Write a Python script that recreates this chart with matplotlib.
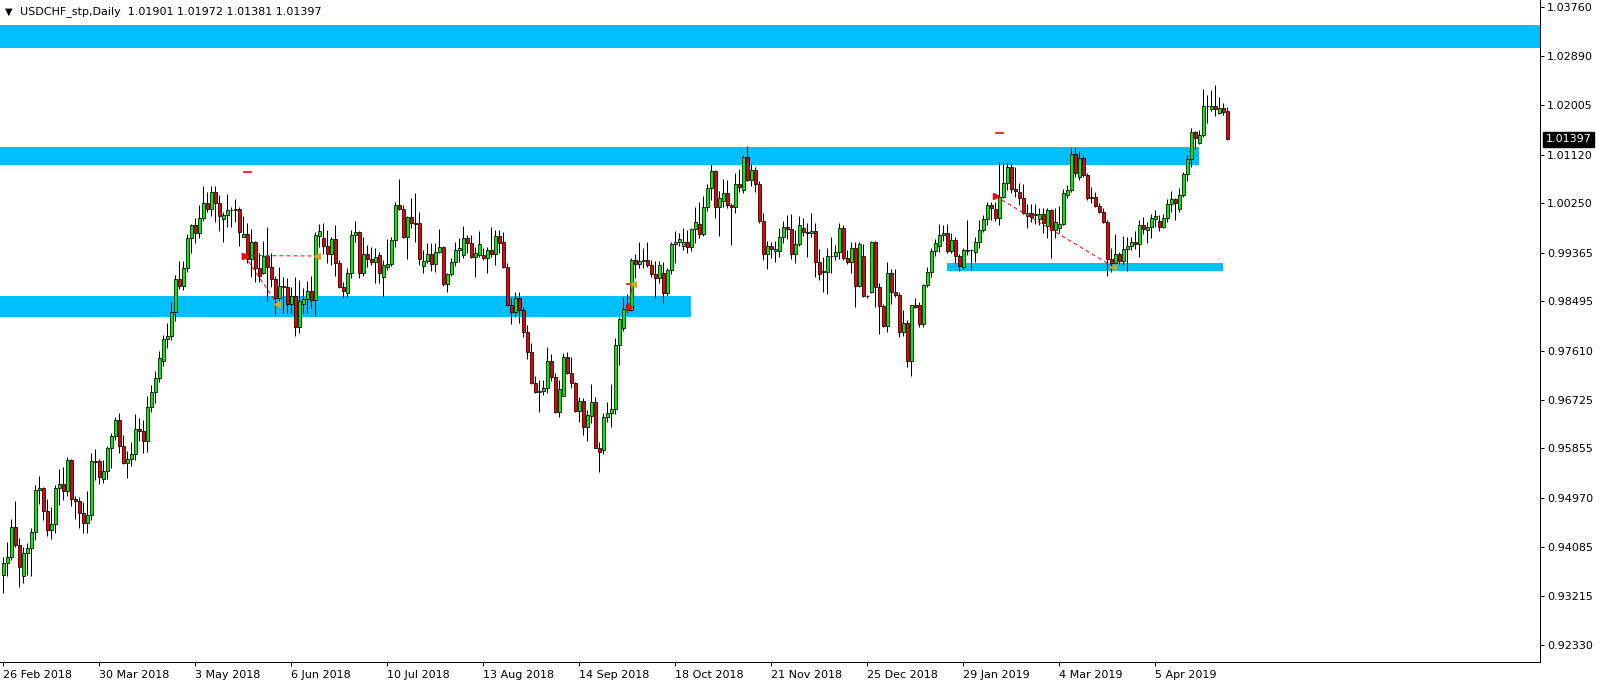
import matplotlib
matplotlib.use('Agg')
import matplotlib.pyplot as plt
from matplotlib.patches import Rectangle

# daily USDCHF candles (bar 0 = 26 Feb 2018)
opens = [
    0.93588, 0.93797, 0.93904, 0.94442, 0.94125, 0.93576, 0.93976, 0.94066, 0.94352, 0.95111,
    0.95141, 0.94741, 0.94394, 0.94496, 0.95141, 0.95219, 0.95099, 0.95649, 0.94944, 0.94920,
    0.94705, 0.94526, 0.94663, 0.95625, 0.95625, 0.95300, 0.95458, 0.95858, 0.96079, 0.96366,
    0.95906, 0.95589, 0.95661, 0.95751, 0.96198, 0.96174, 0.95995, 0.96605, 0.96861, 0.97112,
    0.97420, 0.97811, 0.97871, 0.98295, 0.98887, 0.98773, 0.99084, 0.99622, 0.99855, 0.99723,
    0.99980, 1.00249, 1.00142, 1.00458, 1.00249, 0.99960, 1.00040, 1.00130, 1.00136, 1.00150,
    0.99652, 0.99700, 0.99251, 0.99562, 0.99084, 0.99000, 0.99305, 0.99114, 0.98887, 0.98546,
    0.98773, 0.98743, 0.98439, 0.98588, 0.98038, 0.98450, 0.98528, 0.98678, 0.98516, 0.99660,
    0.99622, 0.99490, 0.99335, 0.99604, 0.99174, 0.98755, 0.98650, 0.98994, 0.99681, 0.99741,
    0.98994, 0.99341, 0.99245, 0.99203, 0.99320, 0.98935, 0.99114, 0.99156, 0.99592, 1.00219,
    1.00147, 0.99652, 1.00010, 0.99891, 0.99891, 0.99126, 0.99215, 0.99335, 0.99156, 0.99383,
    0.99472, 0.98797, 0.98976, 0.99191, 0.99413, 0.99320, 0.99622, 0.99532, 0.99293, 0.99320,
    0.99317, 0.99275, 0.99413, 0.99335, 0.99663, 0.99560, 0.99102, 0.98427, 0.98308, 0.98547,
    0.98338, 0.97937, 0.97591, 0.97035, 0.96874, 0.96880, 0.96934, 0.97424, 0.97143, 0.96515,
    0.96802, 0.97489, 0.97214, 0.97023, 0.96533, 0.96713, 0.96247, 0.96440, 0.96695, 0.95870,
    0.95820, 0.96414, 0.96486, 0.96557, 0.97710, 0.98021, 0.98350, 0.98338, 0.99234, 0.99156,
    0.99216, 0.99230, 0.99144, 0.98983, 0.98917, 0.98995, 0.98636, 0.99055, 0.99521, 0.99550,
    0.99491, 0.99550, 0.99473, 0.99789, 0.99880, 0.99694, 1.00178, 1.00518, 1.00829, 1.00190,
    1.00300, 1.00429, 1.00220, 1.00178, 1.00590, 1.00480, 1.01074, 1.00668, 1.00850, 1.00600,
    0.99930, 0.99335, 0.99484, 0.99400, 0.99400, 0.99652, 0.99819, 0.99790, 0.99335, 0.99520,
    0.99801, 0.99741, 0.99711, 0.99753, 0.99203, 0.99040, 0.99012, 0.99305, 0.99311, 0.99371,
    0.99801, 0.99263, 0.99203, 0.99442, 0.98773, 0.99305, 0.98588, 0.98660, 0.99550, 0.98756,
    0.98415, 0.98057, 0.98995, 0.98654, 0.98612, 0.97949, 0.98099, 0.97429, 0.98427, 0.98420,
    0.98081, 0.98786, 0.99013, 0.99395, 0.99480, 0.99682, 0.99712, 0.99401, 0.99592, 0.99311,
    0.99110, 0.99401, 0.99413, 0.99380, 0.99550, 0.99771, 0.99963, 1.00220, 1.00150, 0.99992,
    1.00369, 1.00608, 1.00907, 1.00500, 1.00460, 1.00339, 1.00030, 1.00070, 1.00040, 0.99962,
    1.00052, 0.99850, 1.00130, 0.99771, 0.99800, 0.99873, 1.00400, 1.00488, 1.01134, 1.00720,
    1.01056, 1.00757, 1.00370, 1.00360, 1.00201, 1.00100, 0.99921, 0.99245, 0.99174, 0.99335,
    0.99216, 0.99431, 0.99485, 0.99563, 0.99515, 0.99861, 0.99770, 0.99831, 0.99960, 0.99933,
    0.99831, 0.99981, 1.00232, 1.00327, 1.00150, 1.00399, 1.00775, 1.01038, 1.01522, 1.01330,
    1.01475, 1.01994, 1.01941, 1.02000, 1.01875, 1.01953, 1.01901,
]
highs = [
    0.93916, 0.94173, 0.94591, 0.94914, 0.94245, 0.94096, 0.94155, 0.94424, 0.95201, 0.95362,
    0.95160, 0.94944, 0.94801, 0.95201, 0.95488, 0.95518, 0.95709, 0.95661, 0.95004, 0.94992,
    0.94896, 0.95093, 0.95780, 0.95846, 0.95661, 0.95649, 0.95906, 0.96139, 0.96414, 0.96486,
    0.96097, 0.95810, 0.95972, 0.96473, 0.96395, 0.96366, 0.96796, 0.96993, 0.97244, 0.97602,
    0.97889, 0.98098, 0.98475, 0.98965, 0.99216, 0.99216, 0.99700, 0.99870, 0.99980, 1.00219,
    1.00560, 1.00446, 1.00560, 1.00560, 1.00399, 1.00100, 1.00417, 1.00190, 1.00321, 1.00190,
    1.00022, 0.99891, 0.99783, 0.99574, 0.99365, 0.99580, 0.99819, 0.99353, 0.98946, 0.99114,
    0.98935, 0.98917, 0.98743, 0.98935, 0.98875, 0.98725, 0.98857, 0.98946, 0.99741, 0.99879,
    0.99891, 0.99771, 0.99652, 0.99861, 0.99233, 0.98845, 0.99084, 0.99771, 0.99932, 0.99760,
    0.99640, 0.99502, 0.99460, 0.99442, 0.99383, 0.99233, 0.99610, 0.99652, 1.00279, 1.00685,
    1.00219, 1.00028, 1.00339, 1.00440, 1.00100, 0.99413, 0.99532, 0.99532, 0.99532, 0.99789,
    0.99490, 0.98994, 0.99263, 0.99550, 0.99622, 0.99843, 0.99681, 0.99681, 0.99472, 0.99753,
    0.99442, 0.99472, 0.99819, 0.99771, 0.99771, 0.99741, 0.99174, 0.98547, 0.98654, 0.98654,
    0.98397, 0.98069, 0.97752, 0.97155, 0.97083, 0.97083, 0.97669, 0.97543, 0.97203, 0.97083,
    0.97561, 0.97579, 0.97501, 0.97053, 0.96784, 0.96755, 0.96545, 0.97005, 0.96784, 0.95978,
    0.96497, 0.96695, 0.97005, 0.97830, 0.98218, 0.98565, 0.98619, 0.99264, 0.99341, 0.99550,
    0.99443, 0.99550, 0.99234, 0.99222, 0.99222, 0.99192, 0.99084, 0.99562, 0.99754, 0.99712,
    0.99801, 0.99772, 0.99813, 1.00178, 1.00279, 1.00387, 1.00590, 1.00955, 1.00847, 1.00471,
    1.00680, 1.00668, 1.00250, 1.00787, 1.00865, 1.01116, 1.01277, 1.00950, 1.00900, 1.00650,
    1.00070, 0.99580, 0.99562, 0.99580, 0.99813, 0.99932, 1.00040, 1.00058, 0.99771, 1.00028,
    0.99980, 0.99891, 1.00070, 0.99891, 0.99424, 0.99293, 0.99442, 0.99652, 0.99502, 0.99891,
    0.99861, 0.99413, 0.99550, 0.99550, 0.99562, 0.99520, 0.98600, 0.99574, 0.99574, 0.98816,
    0.98439, 0.99204, 0.99072, 0.99072, 0.98666, 0.98338, 0.98158, 0.98435, 0.98559, 0.98487,
    0.98798, 0.99114, 0.99455, 0.99604, 0.99879, 0.99861, 0.99879, 0.99724, 0.99652, 0.99341,
    0.99443, 0.99951, 0.99431, 0.99652, 0.99951, 1.00040, 1.00267, 1.00279, 1.00279, 1.00984,
    1.00966, 1.00978, 1.00966, 1.00907, 1.00608, 1.00590, 1.00231, 1.00231, 1.00231, 1.00160,
    1.00160, 1.00160, 1.00148, 1.00160, 1.00201, 1.00500, 1.00578, 1.01235, 1.01235, 1.01193,
    1.01116, 1.00787, 1.00548, 1.00458, 1.00249, 1.00160, 0.99950, 0.99455, 0.99694, 0.99371,
    0.99664, 0.99652, 0.99652, 0.99754, 0.99951, 1.00011, 0.99921, 1.00052, 1.00130, 1.00040,
    1.00052, 1.00321, 1.00471, 1.00351, 1.00519, 1.00817, 1.01116, 1.01606, 1.01546, 1.01564,
    1.02299, 1.02192, 1.02281, 1.02371, 1.02150, 1.02042, 1.01972,
]
lows = [
    0.93259, 0.93570, 0.93857, 0.94096, 0.93379, 0.93450, 0.93582, 0.93570, 0.94215, 0.94860,
    0.94574, 0.94293, 0.94239, 0.94335, 0.94848, 0.94932, 0.95004, 0.94830, 0.94597, 0.94436,
    0.94335, 0.94346, 0.94574, 0.95291, 0.95219, 0.95231, 0.95302, 0.95512, 0.96008, 0.95780,
    0.95577, 0.95332, 0.95547, 0.95649, 0.95995, 0.95768, 0.95798, 0.96503, 0.96664, 0.97047,
    0.97333, 0.97662, 0.97800, 0.98146, 0.98714, 0.98696, 0.99024, 0.99353, 0.99544, 0.99634,
    0.99933, 1.00100, 1.00028, 0.99921, 0.99759, 0.99562, 0.99819, 0.99831, 0.99921, 0.99484,
    0.99640, 0.99174, 0.98935, 0.98845, 0.98845, 0.98980, 0.98504, 0.98755, 0.98259, 0.98427,
    0.98289, 0.98277, 0.98289, 0.97877, 0.97919, 0.98277, 0.98289, 0.98367, 0.98235, 0.99472,
    0.99335, 0.99174, 0.99144, 0.98946, 0.98725, 0.98546, 0.98576, 0.98905, 0.99562, 0.98905,
    0.98946, 0.99114, 0.99144, 0.98827, 0.98827, 0.98576, 0.99054, 0.99126, 0.99472, 1.00129,
    0.99622, 0.99251, 0.99801, 0.99562, 0.99144, 0.99006, 0.99174, 0.99042, 0.99024, 0.99353,
    0.98767, 0.98666, 0.98946, 0.99126, 0.99203, 0.99263, 0.99353, 0.99263, 0.98935, 0.99293,
    0.99233, 0.99006, 0.99293, 0.99144, 0.99353, 0.99084, 0.98409, 0.98081, 0.98218, 0.98099,
    0.97860, 0.97453, 0.97011, 0.96856, 0.96515, 0.96814, 0.96856, 0.97071, 0.96497, 0.96414,
    0.96796, 0.97185, 0.96946, 0.96515, 0.96336, 0.96097, 0.95990, 0.96318, 0.95858, 0.95428,
    0.95751, 0.96336, 0.96235, 0.96468, 0.97352, 0.97967, 0.98290, 0.98320, 0.98905, 0.99096,
    0.99084, 0.99102, 0.98935, 0.98559, 0.98816, 0.98469, 0.98594, 0.98977, 0.99186, 0.99485,
    0.99413, 0.99365, 0.99395, 0.99544, 0.99622, 0.99670, 1.00112, 1.00309, 0.99993, 0.99664,
    1.00190, 1.00172, 0.99503, 1.00070, 1.00447, 1.00441, 1.00656, 1.00560, 1.00450, 0.99891,
    0.99233, 0.99072, 0.99263, 0.99203, 0.99293, 0.99544, 0.99604, 0.99245, 0.99174, 0.99484,
    0.99663, 0.99293, 0.99640, 0.98935, 0.98875, 0.98666, 0.98618, 0.99006, 0.99233, 0.99245,
    0.99233, 0.99162, 0.98994, 0.98397, 0.98743, 0.98564, 0.98560, 0.98640, 0.98397, 0.97907,
    0.98040, 0.97949, 0.98445, 0.98577, 0.97860, 0.97877, 0.97322, 0.97160, 0.98380, 0.98040,
    0.98027, 0.98756, 0.98935, 0.99305, 0.99383, 0.99580, 0.99365, 0.99353, 0.99174, 0.99043,
    0.99066, 0.99323, 0.99055, 0.99204, 0.99443, 0.99742, 0.99861, 0.99950, 0.99933, 0.99861,
    1.00339, 1.00488, 1.00440, 1.00369, 1.00219, 1.00052, 0.99801, 0.99921, 0.99879, 0.99861,
    0.99712, 0.99622, 0.99263, 0.99622, 0.99723, 0.99861, 1.00351, 1.00458, 1.00715, 1.00668,
    1.00715, 1.00309, 1.00249, 1.00178, 1.00070, 0.99891, 0.98947, 0.99025, 0.99085, 0.99156,
    0.99144, 0.99043, 0.99413, 0.99425, 0.99294, 0.99700, 0.99533, 0.99622, 0.99831, 0.99760,
    0.99801, 0.99921, 1.00088, 0.99951, 1.00088, 1.00369, 1.00650, 1.00907, 1.01224, 1.01313,
    1.01439, 1.01684, 1.01911, 1.01815, 1.01845, 1.01833, 1.01381,
]
closes = [
    0.93797, 0.93904, 0.94442, 0.94125, 0.93737, 0.93976, 0.94066, 0.94352, 0.95111, 0.95141,
    0.94741, 0.94394, 0.94496, 0.95141, 0.95219, 0.95099, 0.95649, 0.94944, 0.94920, 0.94705,
    0.94526, 0.94663, 0.95625, 0.95620, 0.95338, 0.95458, 0.95858, 0.96079, 0.96366, 0.95906,
    0.95589, 0.95661, 0.95751, 0.96198, 0.96174, 0.95995, 0.96605, 0.96861, 0.97112, 0.97471,
    0.97811, 0.97871, 0.98295, 0.98887, 0.98773, 0.99084, 0.99622, 0.99855, 0.99723, 0.99980,
    1.00249, 1.00142, 1.00458, 1.00249, 1.00028, 1.00040, 1.00130, 1.00136, 1.00150, 0.99741,
    0.99700, 0.99251, 0.99562, 0.99084, 0.98952, 0.99305, 0.99114, 0.98887, 0.98546, 0.98773,
    0.98743, 0.98439, 0.98588, 0.98038, 0.98498, 0.98528, 0.98678, 0.98516, 0.99681, 0.99753,
    0.99490, 0.99335, 0.99604, 0.99174, 0.98755, 0.98684, 0.98994, 0.99681, 0.99741, 0.98994,
    0.99341, 0.99245, 0.99191, 0.99281, 0.98994, 0.99144, 0.99156, 0.99592, 1.00219, 1.00147,
    0.99652, 1.00010, 0.99891, 0.99885, 0.99245, 0.99215, 0.99335, 0.99156, 0.99383, 0.99472,
    0.98797, 0.98976, 0.99191, 0.99413, 0.99442, 0.99622, 0.99532, 0.99293, 0.99353, 0.99514,
    0.99275, 0.99413, 0.99335, 0.99663, 0.99532, 0.99102, 0.98427, 0.98308, 0.98547, 0.98338,
    0.97937, 0.97591, 0.97035, 0.96874, 0.96880, 0.96934, 0.97424, 0.97143, 0.96515, 0.96916,
    0.97489, 0.97214, 0.97023, 0.96533, 0.96713, 0.96247, 0.96456, 0.96695, 0.95870, 0.95798,
    0.96414, 0.96486, 0.96557, 0.97710, 0.98170, 0.98350, 0.98338, 0.99234, 0.99156, 0.99216,
    0.99230, 0.99144, 0.98983, 0.98917, 0.99144, 0.98636, 0.99055, 0.99521, 0.99550, 0.99610,
    0.99550, 0.99473, 0.99789, 0.99909, 0.99694, 1.00178, 1.00518, 1.00829, 1.00190, 1.00339,
    1.00429, 1.00220, 1.00178, 1.00590, 1.00536, 1.01074, 1.00668, 1.00850, 1.00600, 0.99938,
    0.99335, 0.99484, 0.99424, 0.99430, 0.99652, 0.99819, 0.99790, 0.99335, 0.99520, 0.99861,
    0.99741, 0.99711, 0.99753, 0.99203, 0.98976, 0.99012, 0.99305, 0.99311, 0.99371, 0.99801,
    0.99263, 0.99203, 0.99442, 0.98773, 0.99520, 0.98588, 0.98580, 0.99550, 0.98756, 0.98415,
    0.98057, 0.98995, 0.98654, 0.98612, 0.97949, 0.98099, 0.97429, 0.98427, 0.98385, 0.98081,
    0.98786, 0.99013, 0.99395, 0.99533, 0.99682, 0.99712, 0.99401, 0.99592, 0.99311, 0.99132,
    0.99413, 0.99413, 0.99405, 0.99550, 0.99771, 0.99963, 1.00220, 1.00160, 0.99992, 1.00369,
    1.00608, 1.00907, 1.00500, 1.00470, 1.00339, 1.00070, 1.00070, 1.00010, 1.00052, 1.00052,
    0.99891, 1.00130, 0.99771, 0.99909, 0.99873, 1.00429, 1.00488, 1.01134, 1.00787, 1.01056,
    1.00757, 1.00351, 1.00339, 1.00201, 1.00100, 0.99921, 0.99245, 0.99174, 0.99335, 0.99216,
    0.99431, 0.99485, 0.99563, 0.99515, 0.99861, 0.99784, 0.99831, 0.99981, 1.00023, 0.99831,
    0.99981, 1.00232, 1.00327, 1.00250, 1.00399, 1.00775, 1.01038, 1.01522, 1.01415, 1.01475,
    1.01994, 1.01990, 1.02000, 1.01941, 1.01953, 1.01893, 1.01397,
]

date_labels = ['26 Feb 2018', '30 Mar 2018', '3 May 2018', '6 Jun 2018', '10 Jul 2018',
               '13 Aug 2018', '14 Sep 2018', '18 Oct 2018', '21 Nov 2018', '25 Dec 2018',
               '29 Jan 2019', '4 Mar 2019', '5 Apr 2019']
date_bars = [0, 24, 48, 72, 96, 120, 144, 168, 192, 216, 240, 264, 288]
price_ticks = [1.03760, 1.02890, 1.02005, 1.01120, 1.00250, 0.99365, 0.98495,
               0.97610, 0.96725, 0.95855, 0.94970, 0.94085, 0.93215, 0.92330]

# zones drawn on the chart: (from bar, to bar, low price, high price)
zones = [(-5, 400, 1.03030, 1.03439),
         (-5, 298.9, 1.00937, 1.01265),
         (-5, 171.9, 0.98218, 0.98589),
         (235.9, 304.9, 0.99037, 0.99178)]
# trade lines: (open bar, open price, close bar, close price)
trades = [(60.3, 0.99314, 78.4, 0.99305),
          (60.3, 0.99314, 68.5, 0.98445),
          (156.3, 0.98400, 157.3, 0.98798),
          (248.1, 1.00376, 277.5, 0.99114)]
# short red level marks: (from bar, to bar, price)
marks = [(60.2, 61.9, 1.00806), (248.2, 249.9, 1.01504), (156.0, 156.8, 0.98798)]

last_price = 1.01397
title = 'USDCHF_stp,Daily  1.01901 1.01972 1.01381 1.01397'

W, H = 1604, 687
fig = plt.figure(figsize=(W / 100, H / 100), dpi=100)
ax = fig.add_axes([0, 25 / H, 1539.5 / W, 662 / H])
ax.set_xlim(-0.825, 384.05)
ax.set_ylim(0.92028, 1.03894)

zone_color = '#00BFFF'
for x0, x1, lo, hi in zones:
    ax.add_patch(Rectangle((x0, lo), x1 - x0, hi - lo, facecolor=zone_color,
                           edgecolor='none', zorder=1))

px = 0.72  # one pixel in points
xs = list(range(len(closes)))
ax.vlines(xs, lows, highs, color='black', linewidth=px, zorder=3)
for i in xs:
    o, c = opens[i], closes[i]
    fill = '#00F000' if c >= o else '#F00000'
    ax.bar(i, abs(c - o), bottom=min(o, c), width=0.62, color=fill,
           edgecolor='black', linewidth=0.55, zorder=4)

for x0, p0, x1, p1 in trades:
    ax.plot([x0, x1], [p0, p1], color='red', linewidth=px,
            linestyle=(0, (4, 3)), zorder=5)
    ax.plot(x0, p0, marker='>', color='red', markersize=4, zorder=6)
    ax.plot(x1, p1, marker='<', color='#DAA520', markersize=4, zorder=6)
for x0, x1, p in marks:
    ax.plot([x0, x1], [p, p], color='red', linewidth=1.2, zorder=5)

for side in ['top', 'left']:
    ax.spines[side].set_visible(False)
for side in ['right', 'bottom']:
    ax.spines[side].set_linewidth(px)

ax.yaxis.tick_right()
ax.set_yticks(price_ticks)
ax.set_yticklabels(['%.5f' % p for p in price_ticks])
ax.set_xticks(date_bars)
ax.set_xticklabels(date_labels, ha='left')
ax.tick_params(axis='both', direction='out', length=3, width=px,
               labelsize=8, pad=2.5, colors='black')

ax.annotate('%.5f' % last_price, xy=(1.0, last_price),
            xycoords=('axes fraction', 'data'), xytext=(4.5, 0),
            textcoords='offset points', va='center', ha='left',
            color='white', fontsize=8, annotation_clip=False,
            bbox=dict(boxstyle='square,pad=0.25', fc='black', ec='black'))

fig.text(5 / W, 1 - 12 / H, '\u25bc', fontsize=7, va='center', ha='left')
fig.text(20 / W, 1 - 12 / H, title, fontsize=8, va='center', ha='left')

fig.savefig('out.png', dpi=100, facecolor='white')
